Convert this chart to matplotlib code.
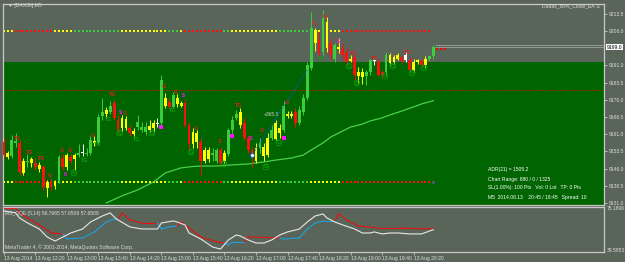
import matplotlib
matplotlib.use("Agg")
import matplotlib.pyplot as plt
import matplotlib.transforms as mtransforms

# --- candles (M5 bars, 11:40 .. 20:45) ---
opens = [9157.5, 9151.0, 9151.5, 9157.0, 9157.0, 9144.0, 9149.0, 9148.5, 9148.5, 9146.0,
         9146.5, 9137.5, 9140.0, 9138.5, 9140.0, 9150.5, 9146.5, 9151.0, 9150.0, 9152.0,
         9153.0, 9152.5, 9153.0, 9157.0, 9157.0, 9169.0, 9170.0, 9170.5, 9174.5, 9167.0,
         9163.5, 9167.5, 9163.5, 9161.0, 9164.0, 9163.0, 9162.0, 9163.0, 9163.5, 9166.0,
         9166.0, 9173.5, 9175.0, 9173.0, 9174.0, 9173.5, 9174.5, 9165.0, 9156.5, 9157.5,
         9157.5, 9149.5, 9154.0, 9152.0, 9149.5, 9154.0, 9149.5, 9152.5, 9163.0, 9168.0,
         9165.0, 9166.0, 9159.5, 9154.0, 9149.5, 9155.0, 9155.5, 9152.0, 9159.5, 9159.0,
         9161.5, 9163.0, 9169.0, 9170.0, 9170.5, 9166.0, 9170.5, 9177.0, 9190.0, 9206.5,
         9202.0, 9197.0, 9210.0, 9201.0, 9194.0, 9198.0, 9198.0, 9197.0, 9193.0, 9194.5,
         9186.5, 9188.0, 9186.5, 9188.0, 9193.0, 9192.5, 9188.0, 9188.0, 9195.5, 9192.5,
         9194.0, 9194.5, 9195.5, 9193.5, 9189.0, 9192.5, 9193.0, 9191.0, 9194.0, 9195.0]
highs = [9159.5, 9153.5, 9160.5, 9161.5, 9158.5, 9150.5, 9152.5, 9151.0, 9150.5, 9149.0,
         9147.5, 9141.0, 9142.0, 9141.0, 9152.0, 9152.5, 9153.0, 9152.5, 9153.0, 9156.5,
         9156.5, 9155.0, 9160.0, 9160.0, 9170.0, 9177.0, 9173.0, 9175.5, 9176.0, 9169.5,
         9169.5, 9169.0, 9165.0, 9163.5, 9169.5, 9166.5, 9166.5, 9167.0, 9167.0, 9168.0,
         9187.0, 9179.0, 9177.0, 9179.5, 9178.5, 9175.5, 9176.5, 9166.5, 9163.5, 9163.0,
         9159.5, 9155.5, 9155.5, 9155.0, 9155.0, 9155.5, 9154.0, 9163.5, 9169.0, 9171.5,
         9172.5, 9168.0, 9160.5, 9155.5, 9157.0, 9159.5, 9157.0, 9161.5, 9165.0, 9167.0,
         9165.5, 9175.5, 9171.0, 9171.0, 9172.5, 9173.5, 9178.5, 9192.5, 9214.5, 9207.5,
         9205.5, 9215.0, 9212.0, 9203.0, 9201.0, 9203.0, 9201.0, 9198.5, 9195.5, 9196.0,
         9190.5, 9190.0, 9189.0, 9194.0, 9194.0, 9194.0, 9189.0, 9197.0, 9196.5, 9195.5,
         9196.5, 9195.5, 9197.0, 9194.5, 9194.0, 9194.0, 9194.0, 9195.0, 9195.5, 9200.0]
lows = [9150.5, 9150.0, 9150.5, 9155.5, 9143.0, 9143.0, 9146.5, 9146.5, 9145.5, 9144.5,
        9136.5, 9133.5, 9136.5, 9137.0, 9139.5, 9145.5, 9145.5, 9148.5, 9145.5, 9151.0,
        9151.5, 9151.5, 9152.0, 9156.0, 9156.5, 9167.0, 9168.0, 9170.0, 9167.0, 9161.5,
        9162.5, 9163.0, 9160.0, 9160.0, 9163.0, 9162.0, 9160.5, 9162.0, 9162.0, 9164.0,
        9165.0, 9172.5, 9172.5, 9172.5, 9173.0, 9173.0, 9164.0, 9154.0, 9155.0, 9155.0,
        9143.0, 9148.5, 9149.0, 9149.5, 9148.5, 9147.5, 9148.5, 9151.5, 9161.5, 9167.0,
        9163.5, 9158.5, 9153.0, 9146.5, 9148.5, 9153.0, 9149.5, 9151.0, 9158.5, 9158.5,
        9159.5, 9162.0, 9168.0, 9168.0, 9164.0, 9165.0, 9169.5, 9176.0, 9189.0, 9197.5,
        9195.0, 9195.5, 9197.0, 9194.0, 9192.5, 9196.5, 9194.0, 9191.0, 9192.5, 9184.5,
        9183.5, 9183.0, 9182.5, 9187.0, 9191.0, 9186.5, 9185.5, 9187.0, 9191.0, 9191.5,
        9193.5, 9192.0, 9192.5, 9188.0, 9188.0, 9191.5, 9190.5, 9190.0, 9193.0, 9194.0]
closes = [9152.0, 9153.0, 9158.5, 9158.0, 9144.5, 9149.5, 9149.5, 9150.0, 9146.5, 9147.5,
          9138.0, 9140.0, 9138.0, 9139.5, 9151.0, 9146.5, 9152.0, 9149.5, 9152.0, 9153.0,
          9153.0, 9153.0, 9158.5, 9158.0, 9168.5, 9170.5, 9171.5, 9173.5, 9168.0, 9163.0,
          9168.0, 9163.5, 9161.5, 9162.5, 9166.5, 9164.0, 9164.0, 9164.5, 9166.0, 9165.5,
          9184.5, 9177.0, 9173.0, 9178.0, 9177.0, 9174.5, 9165.0, 9156.5, 9162.0, 9161.5,
          9149.5, 9154.0, 9150.0, 9153.0, 9154.0, 9148.5, 9153.0, 9163.0, 9167.0, 9170.0,
          9170.5, 9159.5, 9154.0, 9152.0, 9155.0, 9157.5, 9151.5, 9159.5, 9163.0, 9166.0,
          9163.5, 9173.5, 9170.0, 9169.0, 9166.0, 9171.5, 9177.0, 9191.0, 9207.5, 9201.0,
          9196.5, 9211.5, 9198.5, 9195.5, 9200.0, 9199.0, 9195.5, 9192.5, 9194.0, 9187.0,
          9188.0, 9186.0, 9188.0, 9193.5, 9193.0, 9187.0, 9187.0, 9195.5, 9192.0, 9194.5,
          9195.5, 9193.0, 9193.5, 9189.0, 9192.5, 9193.5, 9191.0, 9194.0, 9195.0, 9199.0]
candle_kind = ("ryggrygyry" "ryrygryryg" "wggyggygrr" "yyrygggyyw" "gyrgyyrryy"
               "ryyggryggg" "yrrrygyygy" "ygyyrggggy" "rgyrgyrryr" "yyggwrrgyy" "yrwryyrygg")

# band indicator: colour of the square dots per bar range
band_segments = [(0, 2, "y"), (3, 12, "r"), (13, 17, "y"), (18, 29, "g"), (30, 41, "y"),
                 (42, 44, "g"), (45, 45, "y"), (46, 55, "r"), (56, 57, "g"), (58, 69, "y"),
                 (70, 77, "g"), (78, 85, "y"), (86, 108, "r")]
band_upper = 9206.0
band_lower = 9140.0
red_level = 9180.3
zone_top = 9192.5
bid, ask = 9199.0, 9200.0

# moving average
ma_idx = [26, 30, 34, 38, 41, 45, 48, 50, 54, 58, 62, 66, 69, 73,
          76, 78, 81, 83, 86, 88, 91, 93, 96, 98, 101, 104, 106, 109]
ma_val = [9131.0, 9134.1, 9136.7, 9140.2, 9144.1, 9146.3, 9146.9, 9147.1, 9147.1, 9147.6,
          9148.0, 9148.9, 9149.7, 9150.6, 9151.9, 9154.1, 9157.2, 9159.8, 9162.4, 9164.1,
          9165.4, 9166.8, 9168.1, 9169.4, 9171.1, 9172.9, 9174.2, 9175.6]

# blue dotted trend line
trend_idx = [63, 77]
trend_val = [9151.9, 9189.0]

# signal labels on the chart
lab_idx = [3.6, 6.6, 9.6, 11.7, 14.7, 16.8, 15.7, 17.8, 20.6, 23.9, 22.6, 27.7, 26.6, 29.7,
           30.7, 29.4, 33.8, 37.6, 40.6, 43.7, 45.7, 42.9, 48.7, 47.5, 54.8, 55.8, 59.6,
           62.7, 65.5, 66.5, 69.8, 71.8, 78.7, 81.5, 80.7, 84.8, 88.8, 87.6, 89.6, 94.2,
           96.7, 98.7, 102.5, 103.6, 106.6]
lab_val = [9159.3, 9153.2, 9150.2, 9142.8, 9153.7, 9153.7, 9143.2, 9144.1, 9149.3, 9156.3,
           9160.6, 9178.1, 9167.6, 9170.7, 9170.2, 9161.5, 9158.5, 9161.5, 9181.6, 9179.4,
           9178.1, 9171.5, 9163.3, 9153.2, 9157.6, 9148.0, 9173.7, 9159.3, 9162.8, 9146.7,
           9157.2, 9175.0, 9209.5, 9212.5, 9194.2, 9201.6, 9196.0, 9190.7, 9183.3, 9194.2,
           9186.4, 9190.7, 9196.8, 9187.7, 9189.9]
lab_text = ["TG", "TG", "TG", "G", "G", "G", "8", "G", "TG", "TG", "G", "TG", "TG", "$",
            "G", "G", "TG", "G", "G", "G", "$", "TG", "G", "G", "S", "G", "TG",
            "S", "G", "G", "G", "G", "G", "G", "TG", "$", "TG", "G", "G", "TG",
            "G", "G", "TG", "G", "G"]
lab_kind = ["R", "R", "R", "R", "R", "R", "M", "C", "T", "T", "R", "R", "T", "M",
            "R", "C", "T", "C", "R", "R", "M", "T", "R", "C", "R", "C", "R",
            "M", "R", "C", "C", "R", "R", "R", "T", "M", "R", "C", "C", "R",
            "C", "C", "R", "C", "C"]
mag_idx = [40, 58, 71]
mag_val = [9164.0, 9160.0, 9159.5]

# QQE sub window
qqe_idx = [0, 3, 4, 6, 9, 11, 13, 14, 15, 17, 20, 22, 25, 27, 28, 29, 32, 35, 39, 40, 43,
           44, 46, 47, 50, 53, 55, 57, 59, 60, 62, 64, 66, 68, 70, 72, 75, 77, 79, 81,
           82, 84, 86, 89, 91, 93, 94, 96, 98, 100, 103, 106, 109]
qqe_val = [72.7, 71.0, 66.7, 62.5, 57.4, 50.6, 47.2, 48.9, 50.6, 54.0, 57.4, 63.3, 68.4,
           71.0, 67.6, 65.0, 59.1, 57.4, 57.4, 62.5, 64.2, 63.3, 60.8, 54.0, 48.9, 42.1,
           40.4, 48.1, 52.3, 51.5, 48.1, 45.5, 45.5, 48.1, 52.3, 54.9, 57.4, 63.3, 68.4,
           70.1, 66.7, 63.3, 60.8, 57.4, 54.0, 54.0, 54.9, 53.2, 54.0, 54.0, 53.2, 53.2, 56.8]
trail_idx = [0, 3, 4, 6, 9, 12, 15, 16, 20, 23, 26, 28, 29, 30, 32, 35, 39, 40, 42, 44,
             45, 47, 50, 54, 56, 57, 58, 61, 62, 70, 71, 75, 77, 79, 81, 84, 85, 87, 90,
             95, 101, 106, 109]
trail_val = [75.2, 75.2, 71.0, 66.7, 60.8, 54.0, 53.2, 48.9, 49.8, 54.9, 63.3, 65.9, 65.9,
             71.0, 65.0, 62.5, 62.5, 57.4, 59.1, 60.0, 63.3, 58.2, 50.6, 46.4, 45.5, 43.8,
             46.4, 46.4, 50.6, 49.8, 48.9, 49.8, 57.4, 62.5, 64.2, 64.2, 70.1, 65.0, 59.9,
             58.2, 58.2, 57.4, 57.7]
trail_kind = "rrrrrrrbbbbbbrrrrbbbrrrrrbbbrrbbbbbbrrrrrrr"

price_ticks = [9131.0, 9138.5, 9146.0, 9153.5, 9161.0, 9168.5, 9176.0, 9183.5, 9191.0,
               9206.0, 9213.5]
time_ticks = [0, 8, 16, 24, 32, 40, 48, 56, 64, 72, 80, 88, 96, 104]
time_labels = ["13 Aug 2014", "13 Aug 12:20", "13 Aug 13:00", "13 Aug 13:40", "13 Aug 14:20",
               "13 Aug 15:00", "13 Aug 15:40", "13 Aug 16:20", "13 Aug 17:00", "13 Aug 17:40",
               "13 Aug 18:20", "13 Aug 19:00", "13 Aug 19:40", "13 Aug 20:20"]

plt.rcParams["font.family"] = ["Liberation Sans", "DejaVu Sans"]
FS = 3.6
BG = "#5a6559"
TXT = "#dcdcdc"
BORDER = "#c8c8c8"
palette = {"g": "#3ccd3c", "r": "#ff1010", "y": "#ffff00", "w": "#ffffff"}
lab_colors = {"R": "#e02020", "T": "#10a010", "C": "#10a010", "M": "#ff10ff"}

fig = plt.figure(figsize=(6.25, 2.62), dpi=100, facecolor=BG)
ax = fig.add_axes([3 / 625, 57 / 262, 601 / 625, 201 / 262], facecolor=BG)
sub = fig.add_axes([3 / 625, 10 / 262, 601 / 625, 45 / 262], facecolor=BG, sharex=ax)

for a in (ax, sub):
    for s in a.spines.values():
        s.set_color(BORDER)
        s.set_linewidth(0.9)

XMAX = 152.3
ax.set_xlim(-0.2, XMAX)
ax.set_ylim(9130.1, 9217.8)

# green zone
ax.axhspan(9100, zone_top, color="#006400", lw=0, zorder=0)

# levels
ax.axhline(red_level, color="#ff0000", lw=0.7, ls=(0, (1, 1.5)), zorder=1)
for lo, hi, k in band_segments:
    xs = list(range(lo, hi + 1))
    ax.scatter(xs, [band_upper] * len(xs), marker="s", s=3.2, color=palette[k], lw=0, zorder=2)
    ax.scatter(xs, [band_lower] * len(xs), marker="s", s=3.2, color=palette[k], lw=0, zorder=2)
ax.scatter([109], [band_lower], marker="o", s=6, color="#4a5a70", lw=0, zorder=2)

# moving average
ax.plot(ma_idx, ma_val, color="#4ad04a", lw=0.9, zorder=2)

# candles
n = len(opens)
xs = list(range(n))
cols = [palette[k] for k in candle_kind]
ax.vlines(xs, lows, highs, colors=cols, lw=0.7, zorder=3)
bottoms = [min(o, c) for o, c in zip(opens, closes)]
heights = [max(abs(c - o), 0.35) for o, c in zip(opens, closes)]
ax.bar(xs, heights, bottom=bottoms, width=0.72, color=cols, lw=0, zorder=4)

# trend line and marks
ax.plot(trend_idx, trend_val, color="#2050ff", lw=0.8, ls=(0, (1, 1.5)), zorder=5)
ax.scatter([trend_idx[0]], [trend_val[0]], s=8, facecolor="white", edgecolor="#2050ff", lw=0.6, zorder=6)
ax.scatter(mag_idx, mag_val, marker="s", s=5, color="#ff10ff", lw=0, zorder=6)
ax.scatter([110, 111, 112], [9198.0] * 3, marker="s", s=4, color="#ff0000", lw=0, zorder=6)
ax.text(68, 9169.4, "+365.0", fontsize=FS, color="#d0d0d0", ha="center", va="center", zorder=6)

for xi, yi, t, k in zip(lab_idx, lab_val, lab_text, lab_kind):
    kw = {}
    if k == "C":
        kw["bbox"] = dict(boxstyle="circle,pad=0.08", fc="none", ec=lab_colors[k], lw=0.5)
    ax.text(xi, yi, t, fontsize=3.9, color=lab_colors[k], ha="center", va="center",
            fontweight="bold", zorder=7, **kw)

# bid / ask lines
ax.hlines([bid, ask], 109.5, XMAX, color="#a8b0a8", lw=0.5, zorder=2)

# right price axis
ax.yaxis.tick_right()
ax.set_yticks(price_ticks)
ax.set_yticklabels([f"{v:.1f}" for v in price_ticks])
ax.tick_params(axis="y", labelsize=FS, colors=TXT, length=2, width=0.5, pad=1.5)
ax.tick_params(axis="x", bottom=False, labelbottom=False)
tr = mtransforms.blended_transform_factory(ax.transAxes, ax.transData)
ax.text(1.004, bid, f"{bid:.1f}", transform=tr, fontsize=FS, color="black", va="center",
        ha="left", bbox=dict(fc="white", ec="none", pad=0.5))

# QQE
sub.set_ylim(37.9, 76.0)
sub.plot(qqe_idx, qqe_val, color="#e8e8e8", lw=0.8, zorder=3)
tc = {"r": "#e81010", "b": "#20a0e0"}
for i in range(1, len(trail_idx)):
    sub.plot(trail_idx[i - 1:i + 1], trail_val[i - 1:i + 1], color=tc[trail_kind[i]], lw=0.8, zorder=2)
sub.yaxis.tick_right()
sub.set_yticks([75.1896, 39.5953])
sub.set_yticklabels(["75.1896", "39.5953"])
sub.tick_params(axis="y", labelsize=FS, colors=TXT, length=0, pad=2)
sub.set_xticks(time_ticks)
sub.set_xticklabels(time_labels, ha="left")
sub.tick_params(axis="x", labelsize=FS, colors=TXT, length=2, width=0.5, pad=1)
sub.text(0.004, 0.9, "MS_QQE (5,14) 56.7665 57.6509 57.6509", transform=sub.transAxes,
         fontsize=FS, color=TXT, va="top", ha="left", zorder=5)
sub.text(0.004, 0.05, "MetaTrader 4, \u00a9 2001-2014, MetaQuotes Software Corp.",
         transform=sub.transAxes, fontsize=FS, color=TXT, va="bottom", ha="left")

# chart headers and info box
fig.text(8 / 625, 1 - 6 / 262, "\u25bc [DAX30],M5", fontsize=FS, color=TXT, va="center", ha="left")
fig.text(601 / 625, 1 - 6 / 262, "Dadas_50%_Close_EA \u263a", fontsize=FS, color=TXT,
         va="center", ha="right")
info = ["ADR(21) = 1505.2",
        "Chart Range: 880 / 0 / 1325",
        "SL(1.00%): 100 Pts   Vol: 0 Lot   TP: 0 Pts",
        "M5  2014.08.13    20:45 / 19:45   Spread: 10"]
for k, line in enumerate(info):
    fig.text(488 / 625, 1 - (170 + 9 * k) / 262, line, fontsize=FS, color="white",
             va="center", ha="left")

fig.savefig("out.png", dpi=100, facecolor=BG)
